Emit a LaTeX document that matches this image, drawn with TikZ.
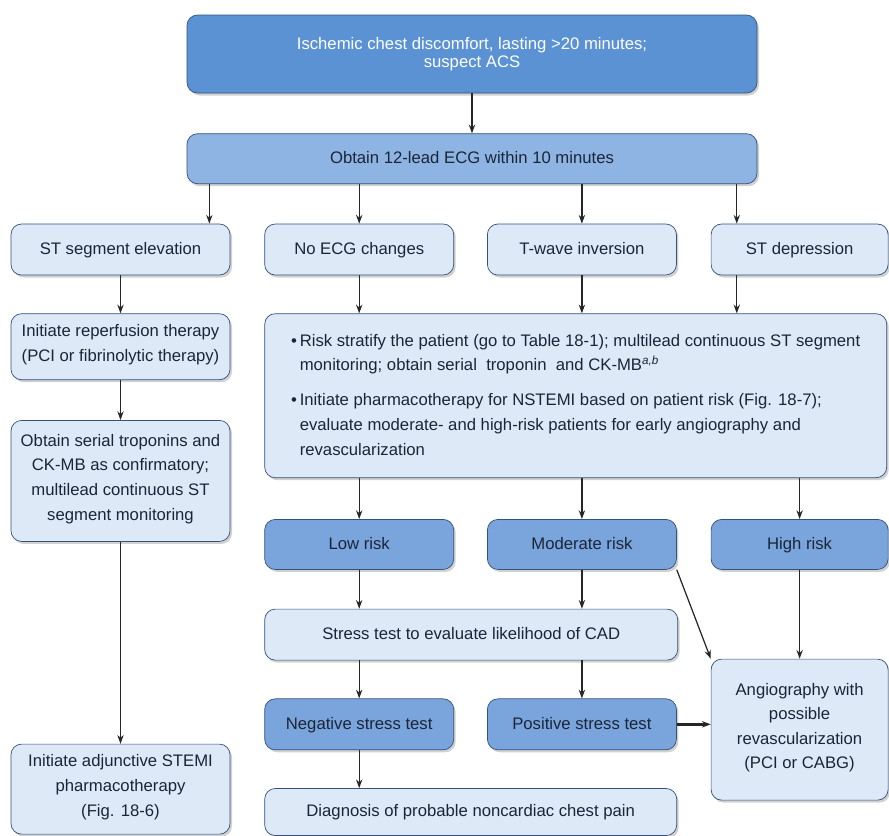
\documentclass[tikz,border=0pt]{standalone}
\usepackage{fontspec}
\setmainfont{Liberation Sans}
\usepackage{xcolor}
\definecolor{acsDeep}{HTML}{5B92D4}
\definecolor{acsMid}{HTML}{8DB4E3}
\definecolor{acsLevel}{HTML}{7AA5DC}
\definecolor{acsLight}{HTML}{DDE9F6}
\definecolor{acsLine}{HTML}{34527A}
\definecolor{acsText}{HTML}{1B2538}
\usepackage{tikz}
\usetikzlibrary{arrows.meta, positioning, shadows}

\begin{document}
\begin{tikzpicture}[
    font=\fontsize{9.5}{14}\selectfont,
    node distance=0.8cm and 0.66cm,
    boxshadow/.style={drop shadow={shadow xshift=0.04cm, shadow yshift=-0.05cm, fill=black, opacity=0.18}},
    evenlines/.style={execute at begin node={\strut}, execute at end node={\strut}},
    startbox/.style={draw=acsLine, fill=acsDeep, rectangle, rounded corners=6pt, align=center, inner sep=2pt, text=white, minimum width=11.4cm, minimum height=1.56cm, boxshadow, font=\fontsize{9.5}{10.5}\selectfont},
    ecgbox/.style={draw=acsLine, fill=acsMid, rectangle, rounded corners=6pt, align=center, inner sep=2pt, text=acsText, minimum width=11.4cm, minimum height=1.0cm, boxshadow, evenlines},
    stepbox/.style={draw=acsLine, fill=acsLight, rectangle, rounded corners=6pt, align=center, inner sep=2pt, text=acsText, minimum width=3.78cm, minimum height=1.02cm, boxshadow, evenlines},
    levelbox/.style={draw=acsLine, fill=acsLevel, rectangle, rounded corners=6pt, align=center, inner sep=2pt, text=acsText, minimum width=3.78cm, minimum height=1.0cm, boxshadow, evenlines},
    arrow/.style={-{Stealth[length=5pt, width=3.6pt]}, line width=0.7pt, draw=black!85}
]

\useasboundingbox (0,0) rectangle (17.78,-16.7);

\node (chest) [startbox] at (9.44,-1.08) {Ischemic chest discomfort, lasting >20 minutes;\\suspect ACS};
\node (ecg) [ecgbox, below=0.8cm of chest] {Obtain 12-lead ECG within 10 minutes};

% ECG findings row
\node (stelev) [stepbox, minimum width=4.38cm] at (2.41,-4.99) {ST segment elevation};
\node (noecg) [stepbox, right=0.68cm of stelev] {No ECG changes};
\node (twave) [stepbox, right=0.66cm of noecg] {T-wave inversion};
\node (stdep) [stepbox, right=0.68cm of twave, minimum width=3.54cm] {ST depression};

% STEMI column
\node (reperf) [stepbox, minimum width=4.38cm, minimum height=1.32cm, below=0.76cm of stelev] {Initiate reperfusion therapy\\(PCI or fibrinolytic therapy)};
\node (serial) [stepbox, minimum width=4.38cm, minimum height=2.42cm, below=0.8cm of reperf] {Obtain serial troponins and\\CK-MB as confirmatory;\\multilead continuous ST\\segment monitoring};
\node (adjunct) [stepbox, minimum width=4.38cm, minimum height=1.8cm, below=4.04cm of serial] {Initiate adjunctive STEMI\\pharmacotherapy\\(Fig. 18-6)};

% NSTE-ACS branch
\node (risk) [stepbox, evenlines/.style={}, minimum width=12.44cm, minimum height=3.28cm, below=0.76cm of noecg.south west, anchor=north west] {%
    \begin{tabular}{@{}l@{\,}l@{}}
    \textbullet & Risk stratify the patient (go to Table 18-1); multilead continuous ST segment\\
     & monitoring; obtain serial~ troponin~ and CK-MB\textsuperscript{\textit{a,b}}\\[6pt]
    \textbullet & Initiate pharmacotherapy for NSTEMI based on patient risk (Fig. 18-7);\\
     & evaluate moderate- and high-risk patients for early angiography and\\
     & revascularization
    \end{tabular}};

\node (low) [levelbox, below=0.82cm of risk.south west, anchor=north west] {Low risk};
\node (moderate) [levelbox, right=0.66cm of low] {Moderate risk};
\node (high) [levelbox, right=0.68cm of moderate, minimum width=3.54cm] {High risk};

\node (stress) [stepbox, minimum width=8.26cm, below=0.78cm of low.south west, anchor=north west] {Stress test to evaluate likelihood of CAD};
\node (negative) [levelbox, minimum height=1.02cm, below=0.76cm of stress.south west, anchor=north west] {Negative stress test};
\node (positive) [levelbox, minimum height=1.02cm, right=0.66cm of negative] {Positive stress test};
\node (noncard) [stepbox, minimum width=8.24cm, minimum height=0.94cm, below=0.76cm of negative.south west, anchor=north west] {Diagnosis of probable noncardiac chest pain};
\node (angio) [stepbox, minimum width=3.54cm, minimum height=2.82cm, below=1.78cm of high] {Angiography with\\possible\\revascularization\\(PCI or CABG)};

\coordinate (e1) at ([xshift=-0.42cm]stelev.north east);
\coordinate (e4) at ([xshift=0.52cm]stdep.north west);

% connectors
\draw [arrow] (chest) -- (ecg);
\draw [arrow] (ecg.south -| e1) -- (e1);
\draw [arrow] (ecg.south -| noecg.north) -- (noecg.north);
\draw [arrow] (ecg.south -| twave.north) -- (twave.north);
\draw [arrow] (ecg.south -| e4) -- (e4);

\draw [arrow] (stelev) -- (reperf);
\draw [arrow] (reperf) -- (serial);
\draw [arrow] (serial) -- (adjunct);

\draw [arrow] (noecg.south) -- (noecg.south |- risk.north);
\draw [arrow] (twave.south) -- (twave.south |- risk.north);
\draw [arrow] (e4 |- stdep.south) -- (e4 |- risk.north);

\draw [arrow] (risk.south -| low.north) -- (low.north);
\draw [arrow] (risk.south -| moderate.north) -- (moderate.north);
\draw [arrow] (risk.south -| high.north) -- (high.north);

\draw [arrow] (low.south) -- (low.south |- stress.north);
\draw [arrow] (moderate.south) -- (moderate.south |- stress.north);
\draw [arrow] (moderate.south east) -- (angio.north west);
\draw [arrow] (high) -- (angio);

\draw [arrow] (stress.south -| negative.north) -- (negative.north);
\draw [arrow] (stress.south -| positive.north) -- (positive.north);
\draw [arrow] (negative.south) -- (negative.south |- noncard.north);
\draw [arrow, line width=1.4pt] (positive.east) -- (positive.east -| angio.west);

\end{tikzpicture}
\end{document}
